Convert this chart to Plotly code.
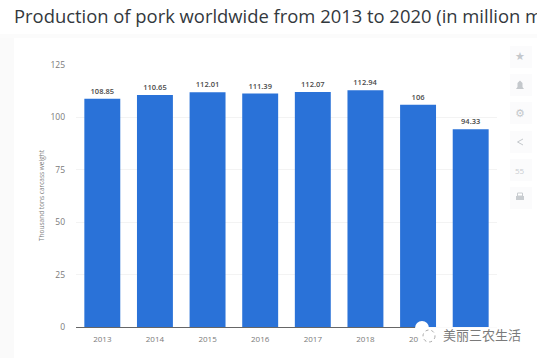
import plotly.graph_objects as go

years = ["2013", "2014", "2015", "2016", "2017", "2018", "2019", "2020"]
production = [108.85, 110.65, 112.01, 111.39, 112.07, 112.94, 106, 94.33]
labels = ["108.85", "110.65", "112.01", "111.39", "112.07", "112.94", "106", "94.33"]
y_ticks = [0, 25, 50, 75, 100, 125]

W, H = 537, 358
L, R, T, B = 76, 40, 65, 31


def px(x):
    return (x - L) / (W - L - R)


def py(y):
    return 1 - (y - T) / (H - T - B)


shapes = []
annotations = []


def rect(x0, y0, x1, y1, fill, line=None, layer="below"):
    shapes.append(dict(type="rect", xref="paper", yref="paper", x0=px(x0), x1=px(x1),
                       y0=py(y0), y1=py(y1), fillcolor=fill, layer=layer,
                       line=dict(color=line or fill, width=1 if line else 0)))


def path(points, fill, close=True, color=None, width=0):
    d = "M " + " L ".join(f"{px(a):.5f},{py(b):.5f}" for a, b in points) + (" Z" if close else "")
    shapes.append(dict(type="path", xref="paper", yref="paper", path=d, layer="above",
                       fillcolor=fill if close else "rgba(0,0,0,0)",
                       line=dict(color=color or fill, width=width)))


def text(x, y, s, size, color, family="Open Sans", anchor="center"):
    annotations.append(dict(xref="paper", yref="paper", x=px(x), y=py(y), text=s, showarrow=False,
                            xanchor=anchor, yanchor="middle",
                            font=dict(size=size, color=color, family=family)))


# page and card
rect(0, 34, W, 38, "#fbfbfb")
rect(0, 38, 14, H, "#fafafa")
rect(14, 38, 502, H, "#ffffff")

# sidebar buttons
for cy in [57, 85, 113, 142, 170, 198]:
    rect(510, cy - 11, 532, cy + 11, "#fbfbfc", layer="below")
text(520, 57, "★", 11, "#c4c8cc", "DejaVu Sans")
path([(516, 89), (517.5, 87), (517.5, 83), (520, 80.5), (522.5, 83), (522.5, 87), (524, 89)], "#c4c8cc")
text(520, 113, "⚙", 11, "#c4c8cc", "DejaVu Sans")
path([(523, 139), (517.5, 142), (523, 145)], "", close=False, color="#c4c8cc", width=1)
text(520, 170, "55", 8, "#c8ccd0", "Open Sans")
rect(516, 196, 524, 200, "#c8ccd0", layer="above")
rect(517.5, 193, 522.5, 196, "#ffffff", line="#c8ccd0", layer="above")

# title
text(12, 15, "Production of pork worldwide from 2013 to 2020 (in million metric tons)",
     18.4, "#33383d", "Open Sans", "left")

# y axis title
annotations.append(dict(xref="paper", yref="paper", x=px(41), y=py(195), text="Thousand tons carcass weight",
                        textangle=-90, showarrow=False, xanchor="center", yanchor="middle",
                        font=dict(size=6.5, color="#808080", family="Open Sans")))

# watermark
shapes.append(dict(type="circle", xref="paper", yref="paper", x0=px(415), x1=px(429), y0=py(321), y1=py(335),
                   fillcolor="#ffffff", layer="above", line=dict(color="#ffffff", width=0)))
rect(419, 327, 525, 350, "rgba(255,255,255,0.97)", layer="above")
shapes.append(dict(type="circle", xref="paper", yref="paper", x0=px(423), x1=px(435), y0=py(330), y1=py(342),
                   fillcolor="rgba(255,255,255,0)", layer="above",
                   line=dict(color="#aaaaaa", width=1, dash="dot")))
text(482, 334, "美丽三农生活", 13, "#7a7a7a", "Noto Sans CJK SC")

fig = go.Figure(go.Bar(
    x=years, y=production, text=labels, textposition="outside", cliponaxis=False,
    marker=dict(color="#2a72d8", line=dict(width=0)),
    textfont=dict(size=7.5, color="#4a4a4a", family="Open Sans", weight=600),
    hoverinfo="skip",
))

fig.update_layout(
    width=W, height=H, margin=dict(l=L, r=R, t=T, b=B, pad=0),
    paper_bgcolor="#ffffff", plot_bgcolor="rgba(0,0,0,0)",
    bargap=0.317, showlegend=False, shapes=shapes, annotations=annotations,
    xaxis=dict(type="category", showgrid=False, showline=True, linecolor="#666666", linewidth=1,
               ticks="", ticklabelstandoff=4, tickfont=dict(size=8, color="#7a7a7a", family="Open Sans")),
    yaxis=dict(range=[0, 125], tickvals=y_ticks, showgrid=True, gridcolor="#f3f3f3", gridwidth=1,
               zeroline=False, ticks="", ticklen=0, ticklabelstandoff=10,
               tickfont=dict(size=8.5, color="#7a7a7a", family="Open Sans")),
)

fig.write_html("out.html", post_script="document.body.style.margin='0';document.body.style.overflow='hidden';",
               config=dict(displayModeBar=False))
